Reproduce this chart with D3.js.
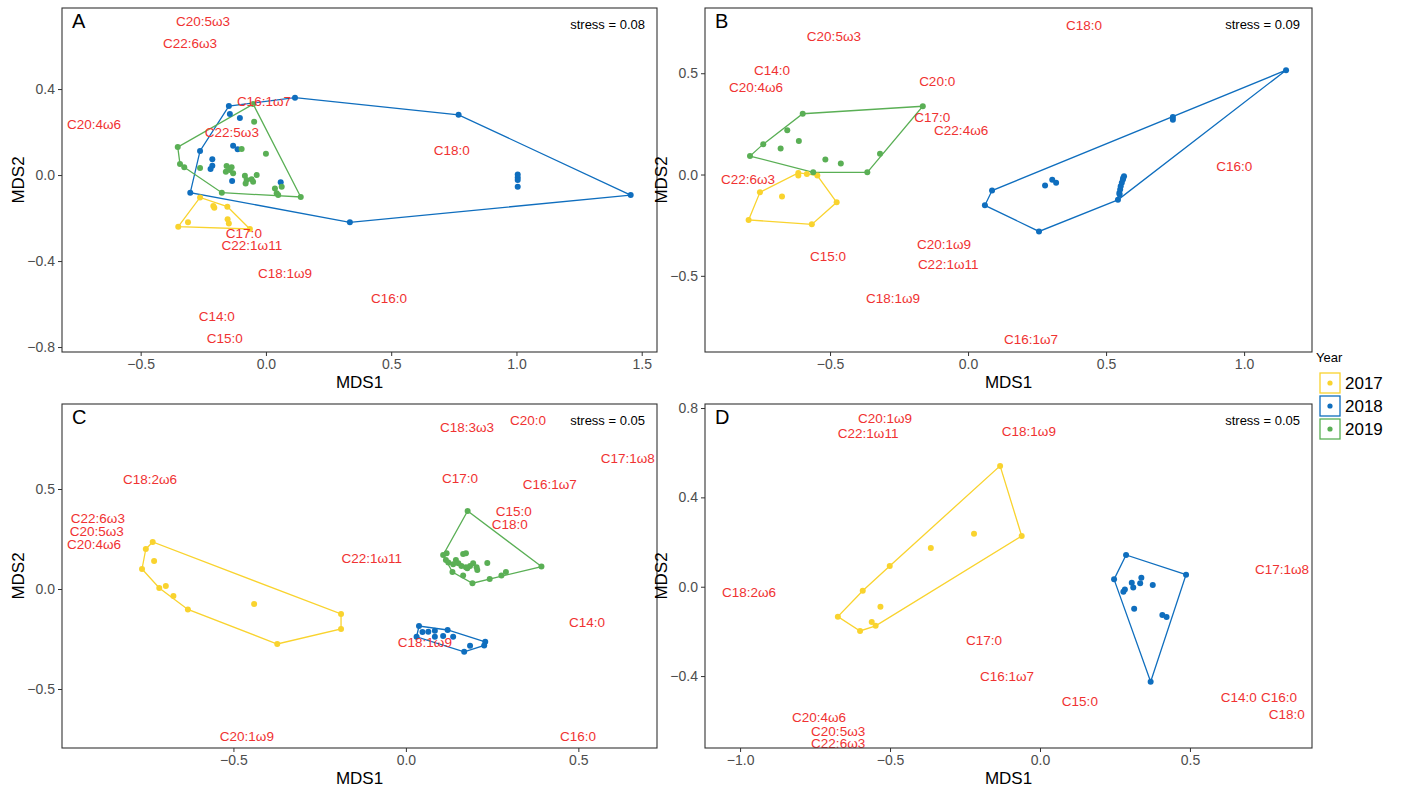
<!DOCTYPE html>
<html><head><meta charset="utf-8">
<script src="https://cdn.jsdelivr.net/npm/d3@7"></script>
<style>body{margin:0;background:#fff;font-family:"Liberation Sans",Arial,sans-serif}</style>
</head><body><svg id="c" width="1402" height="795"></svg>
<script>
// ---------- DATA ----------
const years = ["2017", "2018", "2019"];
const yearColors = ["#F9D32E", "#0F6EBE", "#5AAF55"];

// Panel A
const A_2017 = [[-0.263,-0.104],[-0.210,-0.144],[-0.206,-0.152],[-0.154,-0.147],[-0.350,-0.240],[-0.311,-0.220],[-0.153,-0.206],[-0.148,-0.225],[-0.064,-0.251]];
const A_2018 = [[-0.148,0.321],[0.116,0.360],[-0.144,0.284],[-0.104,0.265],[-0.263,0.112],[-0.131,0.136],[-0.113,0.120],[-0.214,0.074],[-0.214,0.043],[-0.221,0.028],[-0.135,-0.028],[0.059,-0.033],[-0.302,-0.082],[0.769,0.280],[0.335,-0.220],[1.456,-0.093],[1.005,0.003],[1.005,-0.011],[1.005,-0.023],[1.005,-0.054]];
const A_2019 = [[-0.352,0.130],[-0.343,0.051],[-0.326,0.036],[-0.263,0.033],[-0.051,0.330],[-0.047,0.248],[-0.097,0.121],[0.000,0.099],[-0.157,0.042],[-0.137,0.036],[-0.160,0.015],[-0.131,0.008],[-0.144,0.023],[-0.084,-0.003],[-0.077,-0.023],[-0.057,-0.019],[-0.037,0.000],[-0.051,-0.031],[-0.081,-0.039],[0.036,-0.062],[0.063,-0.054],[0.043,-0.085],[0.049,-0.093],[-0.176,-0.082],[0.139,-0.102]];
const A_labels = [["C20:5ω3",-0.251,0.712],["C22:6ω3",-0.303,0.614],["C20:4ω6",-0.686,0.237],["C16:1ω7",-0.008,0.340],["C22:5ω3",-0.136,0.200],["C18:0",0.742,0.116],["C17:0",-0.088,-0.270],["C22:1ω11",-0.056,-0.326],["C18:1ω9",0.076,-0.456],["C16:0",0.491,-0.572],["C14:0",-0.196,-0.660],["C15:0",-0.164,-0.758]];
const A_xticks = [-0.5, 0, 0.5, 1, 1.5];
const A_yticks = [-0.8, -0.4, 0, 0.4];

// Panel B
const B_2017 = [[-0.615,0.008],[-0.615,-0.005],[-0.584,0.003],[-0.546,-0.005],[-0.754,-0.088],[-0.674,-0.109],[-0.476,-0.137],[-0.795,-0.224],[-0.566,-0.246]];
const B_2018 = [[1.152,0.515],[0.742,0.284],[0.742,0.271],[0.087,-0.079],[0.061,-0.152],[0.257,-0.281],[0.543,-0.125],[0.279,-0.054],[0.305,-0.026],[0.319,-0.040],[0.548,-0.091],[0.551,-0.074],[0.553,-0.058],[0.557,-0.041],[0.561,-0.025],[0.565,-0.008],[0.549,-0.099],[0.562,-0.017]];
const B_2019 = [[-0.599,0.300],[-0.164,0.337],[-0.790,0.091],[-0.742,0.150],[-0.655,0.219],[-0.613,0.165],[-0.679,0.129],[-0.517,0.074],[-0.461,0.054],[-0.561,0.011],[-0.365,0.011],[-0.319,0.102]];
const B_labels = [["C18:0",0.420,0.738],["C20:5ω3",-0.486,0.683],["C14:0",-0.710,0.515],["C20:4ω6",-0.768,0.431],["C20:0",-0.112,0.460],["C17:0",-0.130,0.282],["C22:4ω6",-0.025,0.218],["C16:0",0.964,0.040],["C22:6ω3",-0.797,-0.025],["C20:1ω9",-0.087,-0.347],["C22:1ω11",-0.072,-0.446],["C15:0",-0.507,-0.406],["C18:1ω9",-0.272,-0.614],["C16:1ω7",0.228,-0.812]];
const B_xticks = [-0.5, 0, 0.5, 1];
const B_yticks = [-0.5, 0, 0.5];

// Panel C
const C_2017 = [[-0.734,0.235],[-0.754,0.200],[-0.730,0.140],[-0.765,0.100],[-0.715,0.005],[-0.696,0.015],[-0.674,-0.035],[-0.632,-0.102],[-0.440,-0.075],[-0.373,-0.275],[-0.188,-0.125],[-0.188,-0.200]];
const C_2018 = [[0.038,-0.185],[0.031,-0.239],[0.048,-0.215],[0.065,-0.214],[0.084,-0.209],[0.121,-0.205],[0.137,-0.239],[0.084,-0.239],[0.108,-0.235],[0.169,-0.314],[0.186,-0.284],[0.230,-0.264],[0.227,-0.282]];
const C_2019 = [[0.179,0.390],[0.393,0.112],[0.193,0.029],[0.243,0.050],[0.277,0.067],[0.290,0.085],[0.236,0.130],[0.108,0.170],[0.118,0.179],[0.116,0.145],[0.123,0.132],[0.135,0.085],[0.166,0.067],[0.145,0.145],[0.152,0.129],[0.161,0.115],[0.174,0.109],[0.186,0.115],[0.195,0.129],[0.205,0.109],[0.207,0.095],[0.166,0.175],[0.174,0.179],[0.137,0.124],[0.178,0.104]];
const C_labels = [["C18:3ω3",0.177,0.810],["C20:0",0.354,0.845],["C17:1ω8",0.643,0.655],["C18:2ω6",-0.742,0.550],["C17:0",0.157,0.555],["C16:1ω7",0.417,0.525],["C15:0",0.313,0.390],["C18:0",0.301,0.325],["C22:6ω3",-0.893,0.355],["C20:5ω3",-0.896,0.290],["C20:4ω6",-0.904,0.225],["C22:1ω11",-0.099,0.155],["C14:0",0.525,-0.165],["C18:1ω9",0.055,-0.265],["C20:1ω9",-0.461,-0.735],["C16:0",0.499,-0.735]];
const C_xticks = [-0.5, 0, 0.5];
const C_yticks = [-0.5, 0, 0.5];

// Panel D
const D_2017 = [[-0.133,0.541],[-0.061,0.227],[-0.220,0.237],[-0.364,0.173],[-0.501,0.093],[-0.591,-0.018],[-0.532,-0.090],[-0.674,-0.134],[-0.600,-0.198],[-0.561,-0.158],[-0.548,-0.175]];
const D_2018 = [[0.287,0.142],[0.247,0.033],[0.487,0.054],[0.369,-0.425],[0.278,-0.022],[0.283,-0.012],[0.306,0.018],[0.311,-0.003],[0.338,0.040],[0.334,0.015],[0.376,0.008],[0.314,-0.099],[0.408,-0.127],[0.422,-0.136]];
const D_2019 = [];
const D_labels = [["C20:1ω9",-0.517,0.751],["C22:1ω11",-0.573,0.684],["C18:1ω9",-0.037,0.693],["C18:2ω6",-0.970,-0.028],["C17:1ω8",0.807,0.075],["C17:0",-0.187,-0.239],["C16:1ω7",-0.110,-0.400],["C15:0",0.133,-0.512],["C14:0",0.663,-0.498],["C16:0",0.797,-0.498],["C18:0",0.823,-0.570],["C20:4ω6",-0.737,-0.584],["C20:5ω3",-0.673,-0.648],["C22:6ω3",-0.673,-0.703]];
const D_xticks = [-1, -0.5, 0, 0.5];
const D_yticks = [-0.4, 0, 0.4, 0.8];

const panelNames = ["A", "B", "C", "D"];
const stressValues = ["0.08", "0.09", "0.05", "0.05"];

// ---------- LAYOUT ----------
const panels = [
  {name:"A", groups:[A_2017,A_2018,A_2019], labels:A_labels, xt:A_xticks, yt:A_yticks, xd:[-0.814,1.561], yd:[-0.823,0.777], x0:62, x1:657, y0:8, y1:352},
  {name:"B", groups:[B_2017,B_2018,B_2019], labels:B_labels, xt:B_xticks, yt:B_yticks, xd:[-0.953,1.246], yd:[-0.876,0.822], x0:705, x1:1312, y0:8, y1:352},
  {name:"C", groups:[C_2017,C_2018,C_2019], labels:C_labels, xt:C_xticks, yt:C_yticks, xd:[-0.997,0.728], yd:[-0.795,0.925], x0:62, x1:657, y0:404, y1:748},
  {name:"D", groups:[D_2017,D_2018,D_2019], labels:D_labels, xt:D_xticks, yt:D_yticks, xd:[-1.117,0.907], yd:[-0.722,0.818], x0:705, x1:1312, y0:404, y1:748}
];

const svg = d3.select("#c");
const fmt = d3.format(".1f");

panels.forEach((p, i) => {
  const x = d3.scaleLinear().domain(p.xd).range([p.x0, p.x1]);
  const y = d3.scaleLinear().domain(p.yd).range([p.y1, p.y0]);
  const g = svg.append("g");

  const xa = g.append("g").attr("transform", `translate(0,${p.y1})`)
    .call(d3.axisBottom(x).tickValues(p.xt).tickFormat(fmt).tickSizeOuter(0).tickSize(4).tickPadding(3));
  const ya = g.append("g").attr("transform", `translate(${p.x0},0)`)
    .call(d3.axisLeft(y).tickValues(p.yt).tickFormat(fmt).tickSizeOuter(0).tickSize(4).tickPadding(3));
  [xa, ya].forEach(a => {
    a.select(".domain").remove();
    a.selectAll(".tick line").attr("stroke", "#333").attr("stroke-width", 1);
    a.selectAll(".tick text").attr("fill", "#4d4d4d").style("font-size", "14px").style("font-family", "Liberation Sans, Arial, sans-serif");
  });

  const inner = g.append("g");

  p.groups.forEach((pts, k) => {
    if (pts.length < 3) return;
    const hull = d3.polygonHull(pts.map(d => [x(d[0]), y(d[1])]));
    inner.append("path")
      .attr("d", "M" + hull.join("L") + "Z")
      .attr("fill", "none").attr("stroke", yearColors[k]).attr("stroke-width", 1.3);
  });
  p.groups.forEach((pts, k) => {
    inner.selectAll(null).data(pts).enter().append("circle")
      .attr("cx", d => x(d[0])).attr("cy", d => y(d[1])).attr("r", 3)
      .attr("fill", yearColors[k]);
  });

  g.append("rect").attr("x", p.x0).attr("y", p.y0).attr("width", p.x1 - p.x0).attr("height", p.y1 - p.y0)
    .attr("fill", "none").attr("stroke", "#333").attr("stroke-width", 1.1);

  inner.selectAll(null).data(p.labels).enter().append("text")
    .attr("x", d => x(d[1])).attr("y", d => y(d[2]))
    .attr("text-anchor", "middle").attr("dominant-baseline", "central")
    .attr("fill", "#F03232").style("font-size", "13.5px")
    .text(d => d[0]);
  inner.raise();
  g.select("rect").raise();

  g.append("text").attr("x", p.x0 + 10).attr("y", p.y0 + 20).style("font-size", "20px").attr("fill", "#000").text(panelNames[i]);
  g.append("text").attr("x", p.x1 - 12).attr("y", p.y0 + 21).attr("text-anchor", "end")
    .style("font-size", "13px").attr("fill", "#000").text("stress = " + stressValues[i]);

  g.append("text").attr("x", (p.x0 + p.x1) / 2).attr("y", p.y1 + 36).attr("text-anchor", "middle")
    .style("font-size", "17px").attr("fill", "#000").text("MDS1");
  g.append("text").attr("transform", `translate(${p.x0 - 38},${(p.y0 + p.y1) / 2}) rotate(-90)`)
    .attr("text-anchor", "middle").style("font-size", "17px").attr("fill", "#000").text("MDS2");
});

const lg = svg.append("g");
lg.append("text").attr("x", 1316).attr("y", 362).style("font-size", "13px").attr("fill", "#000").text("Year");
years.forEach((yr, k) => {
  const ky = 373 + k * 23;
  lg.append("rect").attr("x", 1320).attr("y", ky).attr("width", 20).attr("height", 20)
    .attr("fill", "#fff").attr("stroke", yearColors[k]).attr("stroke-width", 1.3);
  lg.append("circle").attr("cx", 1330).attr("cy", ky + 10).attr("r", 2.6).attr("fill", yearColors[k]);
  lg.append("text").attr("x", 1345).attr("y", ky + 16).style("font-size", "17px").attr("fill", "#000").text(yr);
});
</script></body></html>
